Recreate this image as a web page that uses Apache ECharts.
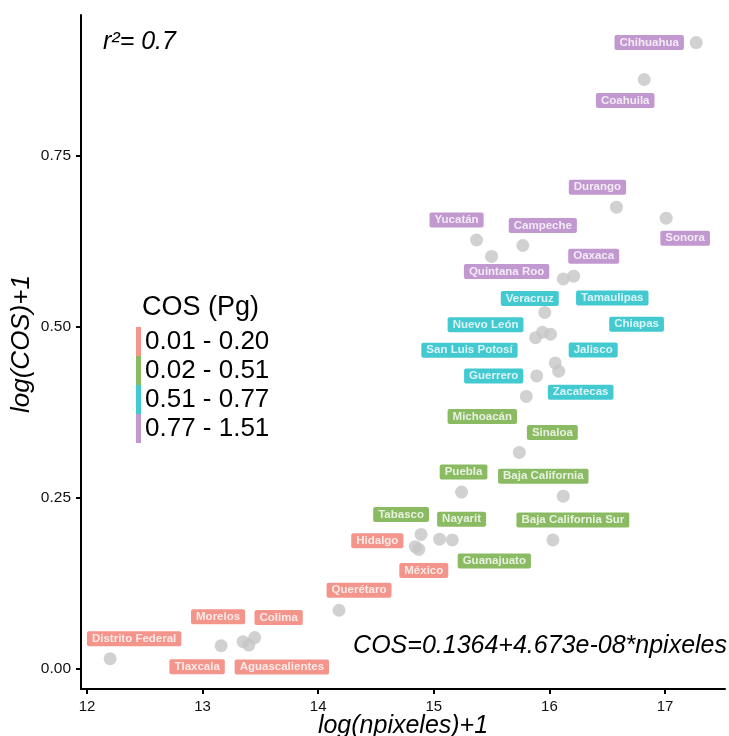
<!DOCTYPE html>
<html><head><meta charset="utf-8">
<script src="https://cdn.jsdelivr.net/npm/echarts@6/dist/echarts.min.js"></script>
<style>html,body{margin:0;padding:0;background:#fff}#c{width:729px;height:736px}</style>
</head><body><div id="c"></div>
<script>
// ---- data ----
const states = ['Chihuahua','Coahuila','Durango','Sonora','Yucatán','Campeche','Quintana Roo','Oaxaca',
  'Tamaulipas','Veracruz','Nuevo León','San Luis Potosí','Chiapas','Jalisco','Zacatecas','Guerrero',
  'Michoacán','Sinaloa','Puebla','Baja California','Tabasco','Nayarit','Guanajuato','Baja California Sur',
  'Hidalgo','México','Querétaro','Distrito Federal','Tlaxcala','Morelos','Aguascalientes','Colima'];
const logNpixeles = [17.27,16.82,16.58,17.01,15.37,15.77,15.50,16.21,
  16.12,15.96,15.88,15.94,16.01,16.05,16.08,15.89,
  15.80,15.74,15.24,16.12,14.89,15.05,15.16,16.03,
  14.84,14.87,14.18,12.20,13.16,13.35,13.40,13.45];
const logCOS = [0.916,0.862,0.675,0.659,0.627,0.619,0.603,0.574,
  0.570,0.521,0.484,0.492,0.489,0.447,0.435,0.428,
  0.398,0.316,0.258,0.252,0.196,0.189,0.188,0.188,
  0.178,0.174,0.085,0.014,0.033,0.039,0.034,0.045];
const groupIdx = [3,3,3,3,3,3,3,3, 2,2,2,2,2,2,2,2, 1,1,1,1,1,1,1,1, 0,0,0,0,0,0,0,0];
const groupNames = ['0.01 - 0.20','0.02 - 0.51','0.51 - 0.77','0.77 - 1.51'];
const xTicks = [12,13,14,15,16,17];
const yTicks = [0,0.25,0.5,0.75];

// ---- styling / layout ----
const groupColors = ['#F07A6E','#6DAA3B','#14BCC4','#B37EC4'];
const labelOffset = {
  'Chihuahua':[-47,0],'Coahuila':[-19,21],'Durango':[-19,-20],'Sonora':[19,20],'Yucatán':[-20,-20],
  'Campeche':[20,-20],'Quintana Roo':[15,15],'Oaxaca':[20,-20],'Tamaulipas':[49,19],'Veracruz':[-15,-14],
  'Nuevo León':[-50,-13],'San Luis Potosí':[-73,18],'Chiapas':[86,-10],'Jalisco':[38,-13],'Zacatecas':[22,21],
  'Guerrero':[-43,0],'Michoacán':[-44,20],'Sinaloa':[33,-20],'Puebla':[2,-20],'Baja California':[-20,-20],
  'Tabasco':[-20,-20],'Nayarit':[22,-20],'Guanajuato':[42,21],'Baja California Sur':[20,-20],
  'Hidalgo':[-38,-6],'México':[5,21],'Querétaro':[20,-20],'Distrito Federal':[24,-20],'Tlaxcala':[-24,21],
  'Morelos':[-25,-25],'Colima':[24,-20],'Aguascalientes':[33,22]
};
const FONT = '"Liberation Sans", Arial, Helvetica, sans-serif';

const series = groupNames.map((gName, g) => ({
  name: gName,
  type: 'scatter',
  symbol: 'circle',
  symbolSize: 13,
  silent: true,
  itemStyle: { color: '#C6C6C6' },
  emphasis: { disabled: true },
  data: states.map((s, i) => ({ s, i })).filter(o => groupIdx[o.i] === g).map(o => ({
    name: o.s,
    value: [logNpixeles[o.i], logCOS[o.i]],
    label: {
      show: true, position: 'inside', offset: labelOffset[o.s], formatter: o.s,
      color: '#fff', fontWeight: 'bold', fontSize: 11.5, fontFamily: FONT, lineHeight: 12,
      backgroundColor: groupColors[g], padding: [2, 5, 1, 5], borderRadius: 2
    }
  }))
}));

const chart = echarts.init(document.getElementById('c'), null, { renderer: 'canvas' });
chart.setOption({
  animation: false,
  backgroundColor: '#fff',
  textStyle: { fontFamily: FONT },
  grid: { left: 81, right: 4, top: 15, bottom: 47, outerBoundsMode: 'none', containLabel: false },
  xAxis: {
    type: 'value', min: 11.948, max: 17.519,
    name: 'log(npixeles)+1', nameLocation: 'middle', nameGap: 25, nameMoveOverlap: false,
    nameTextStyle: { fontSize: 25, fontStyle: 'italic', color: '#000', fontFamily: FONT },
    splitLine: { show: false },
    axisLine: { onZero: false, lineStyle: { color: '#000', width: 2 } },
    axisTick: { customValues: xTicks, length: 5, lineStyle: { color: '#000', width: 2 } },
    axisLabel: { customValues: xTicks, fontSize: 15, color: '#111', margin: 10, fontFamily: FONT }
  },
  yAxis: {
    type: 'value', min: -0.0303, max: 0.9564,
    name: 'log(COS)+1', nameLocation: 'middle', nameGap: 46, nameRotate: 90, nameMoveOverlap: false,
    nameTextStyle: { fontSize: 26, fontStyle: 'italic', color: '#000', fontFamily: FONT, padding: [0, 0, 0, 16] },
    splitLine: { show: false },
    axisLine: { onZero: false, lineStyle: { color: '#000', width: 2 } },
    axisTick: { customValues: yTicks, length: 5, lineStyle: { color: '#000', width: 2 } },
    axisLabel: { customValues: yTicks, fontSize: 15.5, color: '#111', margin: 10, fontFamily: FONT,
      formatter: v => v.toFixed(2) }
  },
  legend: {
    left: 136, top: 327, orient: 'vertical', padding: 0, itemGap: 0,
    itemWidth: 5, itemHeight: 29, icon: 'rect', selectedMode: false,
    textStyle: { fontSize: 26, color: '#000', fontFamily: FONT, padding: [0, 0, 0, -1] },
    data: groupNames.map((n, g) => ({ name: n, itemStyle: { color: groupColors[g] } }))
  },
  graphic: [
    { type: 'text', left: 142, top: 294, style: { text: 'COS (Pg)', fill: '#000', font: '27px ' + FONT } },
    { type: 'text', left: 103, top: 30, style: { text: 'r²= 0.7', fill: '#000', font: 'italic 25px ' + FONT } },
    { type: 'text', right: 2, top: 634, style: { text: 'COS=0.1364+4.673e-08*npixeles', fill: '#000', font: 'italic 25px ' + FONT } }
  ],
  series
});
</script>
</body></html>
